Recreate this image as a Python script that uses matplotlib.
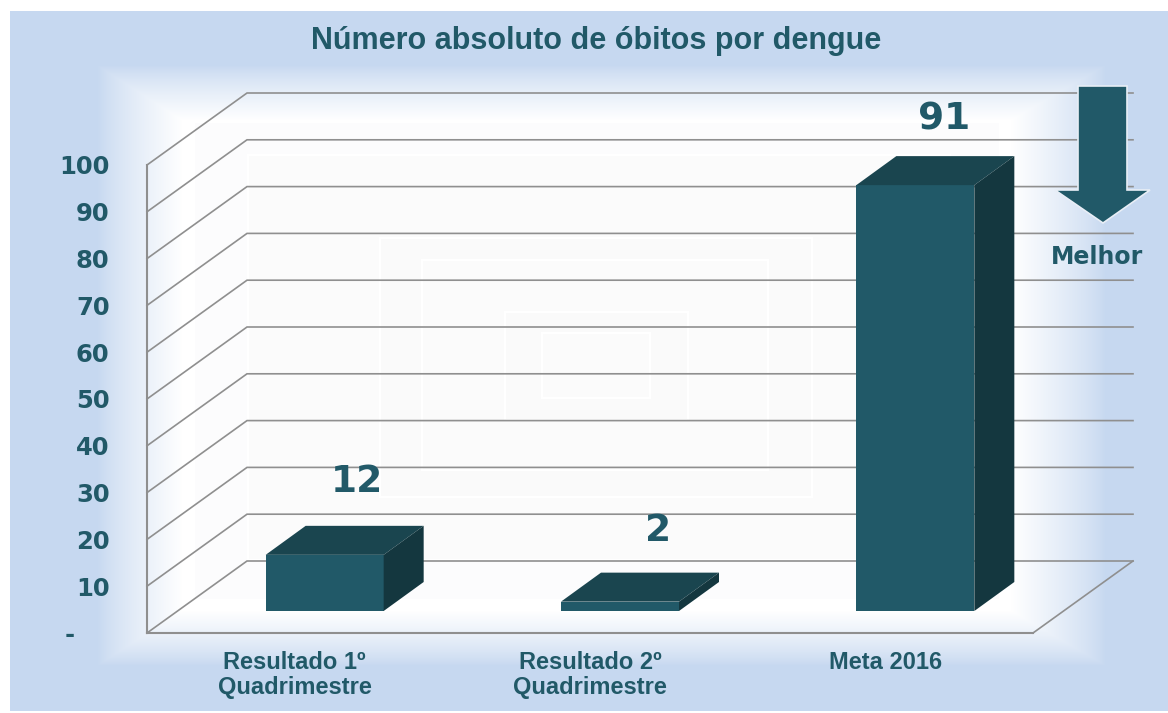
import numpy as np
import matplotlib
matplotlib.use('Agg')
import matplotlib.pyplot as plt
from matplotlib.patches import Polygon, Rectangle

categories = ['Resultado 1º\nQuadrimestre', 'Resultado 2º\nQuadrimestre', 'Meta 2016']
values = [12, 2, 91]
y_ticks = [0, 10, 20, 30, 40, 50, 60, 70, 80, 90, 100]
y_labels = ['-    ', '10', '20', '30', '40', '50', '60', '70', '80', '90', '100']

W, H = 1168, 713
MAIN = '#215968'
TOP = '#1a454f'
SIDE = '#14373f'
GRID = '#8f8f8f'
EDGE_BLUE = np.array([198, 216, 240]) / 255

fig = plt.figure(figsize=(W / 100, H / 100), dpi=100, facecolor='white')

# fundo: painel azul com degrade retangular
bg = fig.add_axes([0, 0, 1, 1])
bg.set_xlim(0, W)
bg.set_ylim(H, 0)
bg.axis('off')
xx, yy = np.meshgrid(np.arange(10, W), np.arange(11, 711))
tx = np.minimum((xx - 97) / 85, (1105 - xx) / 95)
ty = np.minimum((yy - 65) / 55, (665 - yy) / 55)
t = np.clip(np.minimum(tx, ty), 0, 1)
t = t ** 0.8
img = EDGE_BLUE[None, None, :] * (1 - t[..., None]) + np.array([1.0, 1.0, 1.0]) * t[..., None]
bg.imshow(img, extent=(10, W, 711, 11), aspect='auto', interpolation='bilinear')
bg.set_xlim(0, W)
bg.set_ylim(H, 0)

# retangulos claros do centro do degrade
for x0, y0, x1, y1, c in [(194, 122, 1000, 600, '#fcfcfd'), (248, 155, 950, 560, '#fbfbfb'),
                          (380, 238, 812, 497, '#fafafa'), (422, 260, 768, 470, '#fbfbfb'),
                          (505, 312, 688, 420, '#fafafa'), (542, 333, 650, 398, '#fbfbfb')]:
    bg.add_patch(Rectangle((x0, y0), x1 - x0, y1 - y0, facecolor=c, edgecolor='#ffffff', lw=1.5))

# eixo no plano frontal do grafico
ax = fig.add_axes([147 / W, 1 - 633 / H, 886 / W, 468 / H])
ax.patch.set_alpha(0)
ax.set_xlim(-0.5, 2.5)
ax.set_ylim(0, 100)
px_x = 886 / 3
px_y = 468 / 100
x = np.arange(len(categories))


def shift(dx, dy):
    return dx / px_x, dy / px_y


# parede lateral, parede do fundo e chao
back_x, back_y = shift(100, 72)
for v in y_ticks:
    ax.plot([-0.5, -0.5 + back_x, 2.5 + back_x], [v, v + back_y, v + back_y],
            color=GRID, lw=1.2, clip_on=False, zorder=1, solid_joinstyle='miter')
ax.plot([2.5, 2.5 + back_x], [0, back_y], color=GRID, lw=1.2, clip_on=False, zorder=1)

for s in ['top', 'right']:
    ax.spines[s].set_visible(False)
for s in ['left', 'bottom']:
    ax.spines[s].set_color(GRID)
    ax.spines[s].set_linewidth(1.5)

# barras 3D
gap_x, gap_y = shift(30, 22)
dep_x, dep_y = shift(40, 29)
width = 118 / px_x
ax.bar(x + gap_x, values, width=width, bottom=gap_y, color=MAIN, zorder=3, clip_on=False)
label_dx = [-8, -2, -11]
label_dy = [44, 42, 37]
for xi, v, ldx, ldy in zip(x, values, label_dx, label_dy):
    left = xi + gap_x - width / 2
    right = xi + gap_x + width / 2
    base = gap_y
    top = gap_y + v
    ax.fill([left, right, right + dep_x, left + dep_x], [top, top, top + dep_y, top + dep_y],
            color=TOP, lw=0, zorder=3, clip_on=False)
    ax.fill([right, right + dep_x, right + dep_x, right], [base, base + dep_y, top + dep_y, top],
            color=SIDE, lw=0, zorder=3, clip_on=False)
    lx, ly = shift(ldx, ldy)
    ax.text(xi + gap_x + dep_x + lx, top + dep_y + ly, str(v), ha='center', va='center',
            family='DejaVu Sans', fontweight='bold', fontsize=27, color=MAIN, zorder=5, clip_on=False)

ax.set_yticks(y_ticks)
ax.set_yticklabels(y_labels, family='DejaVu Sans', fontweight='bold', fontsize=17.5, color=MAIN)
ax.tick_params(axis='y', length=0, pad=27)
ax.set_xticks(x)
ax.set_xticklabels(categories, family='Liberation Sans', fontweight='bold', fontsize=17, color=MAIN,
                   linespacing=1.1)
ax.tick_params(axis='x', length=0, pad=13)

# titulo
bg.text(596, 41, 'Número absoluto de óbitos por dengue', ha='center', va='center',
        family='Liberation Sans', fontweight='bold', fontsize=22, color=MAIN)

# seta "Melhor"
arrow = [(1078, 86), (1127, 86), (1127, 190), (1150, 190), (1103, 223), (1055, 190), (1078, 190)]
bg.text(1097, 257, 'Melhor', ha='center', va='center', family='DejaVu Sans', fontweight='bold',
        fontsize=17, color=MAIN)
over = fig.add_axes([0, 0, 1, 1], zorder=10)
over.set_xlim(0, W)
over.set_ylim(H, 0)
over.axis('off')
over.add_patch(Polygon(arrow, closed=True, facecolor=MAIN, edgecolor='#e8eef6', lw=1.2))

fig.savefig('out.png', dpi=100)
